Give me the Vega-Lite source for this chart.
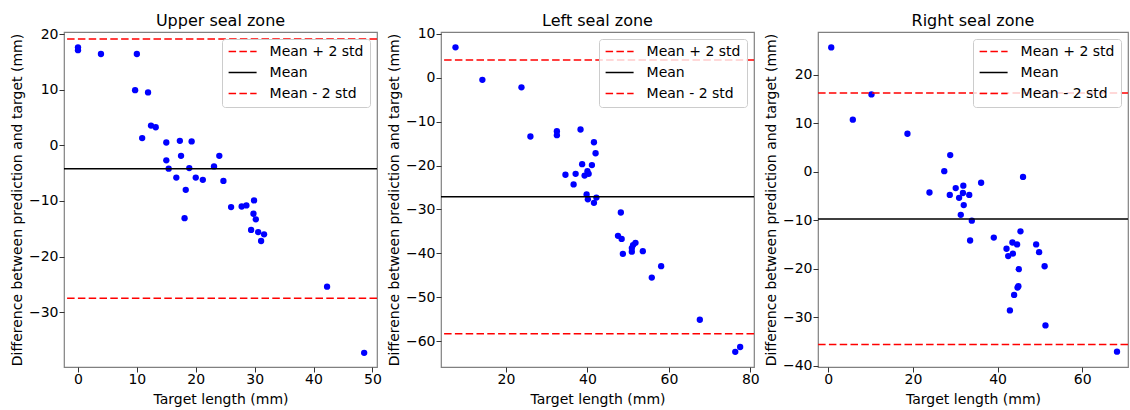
{
  "$schema": "https://vega.github.io/schema/vega-lite/v6.json",
  "padding": {"left": 9, "top": 12, "right": 0, "bottom": 0},
  "spacing": 64,
  "bounds": "flush",
  "datasets": {
    "pts": [
      {"panel": "Upper", "x": 0, "y": 17.6}, {"panel": "Upper", "x": 0, "y": 17.1}, {"panel": "Upper", "x": 3.9, "y": 16.4}, {"panel": "Upper", "x": 10.0, "y": 16.4},
      {"panel": "Upper", "x": 9.7, "y": 9.9}, {"panel": "Upper", "x": 11.9, "y": 9.5}, {"panel": "Upper", "x": 12.4, "y": 3.55}, {"panel": "Upper", "x": 13.2, "y": 3.25},
      {"panel": "Upper", "x": 10.9, "y": 1.3}, {"panel": "Upper", "x": 15.0, "y": 0.5}, {"panel": "Upper", "x": 17.3, "y": 0.8}, {"panel": "Upper", "x": 19.3, "y": 0.7},
      {"panel": "Upper", "x": 15.0, "y": -2.7}, {"panel": "Upper", "x": 17.5, "y": -1.9}, {"panel": "Upper", "x": 24.0, "y": -1.9}, {"panel": "Upper", "x": 15.4, "y": -4.2},
      {"panel": "Upper", "x": 18.9, "y": -4.1}, {"panel": "Upper", "x": 23.1, "y": -3.8}, {"panel": "Upper", "x": 16.7, "y": -5.8}, {"panel": "Upper", "x": 20.0, "y": -5.8},
      {"panel": "Upper", "x": 21.2, "y": -6.2}, {"panel": "Upper", "x": 24.7, "y": -6.4}, {"panel": "Upper", "x": 18.3, "y": -8.0}, {"panel": "Upper", "x": 18.1, "y": -13.1},
      {"panel": "Upper", "x": 29.9, "y": -9.9}, {"panel": "Upper", "x": 26.0, "y": -11.1}, {"panel": "Upper", "x": 27.8, "y": -11.0}, {"panel": "Upper", "x": 28.6, "y": -10.8},
      {"panel": "Upper", "x": 29.8, "y": -12.3}, {"panel": "Upper", "x": 30.2, "y": -13.3}, {"panel": "Upper", "x": 29.4, "y": -15.2}, {"panel": "Upper", "x": 30.6, "y": -15.6},
      {"panel": "Upper", "x": 31.6, "y": -16.0}, {"panel": "Upper", "x": 31.1, "y": -17.2}, {"panel": "Upper", "x": 42.3, "y": -25.4}, {"panel": "Upper", "x": 48.6, "y": -37.3},

      {"panel": "Left", "x": 7.6, "y": 6.9}, {"panel": "Left", "x": 14.2, "y": -0.5}, {"panel": "Left", "x": 23.8, "y": -2.2}, {"panel": "Left", "x": 26.0, "y": -13.4},
      {"panel": "Left", "x": 32.5, "y": -12.2}, {"panel": "Left", "x": 32.5, "y": -13.1}, {"panel": "Left", "x": 38.3, "y": -11.8}, {"panel": "Left", "x": 41.6, "y": -14.7},
      {"panel": "Left", "x": 42.0, "y": -17.2}, {"panel": "Left", "x": 38.7, "y": -19.7}, {"panel": "Left", "x": 41.1, "y": -19.9}, {"panel": "Left", "x": 34.6, "y": -22.1},
      {"panel": "Left", "x": 37.1, "y": -21.9}, {"panel": "Left", "x": 40.0, "y": -21.3}, {"panel": "Left", "x": 39.3, "y": -22.3}, {"panel": "Left", "x": 40.3, "y": -21.9},
      {"panel": "Left", "x": 36.6, "y": -24.3}, {"panel": "Left", "x": 39.8, "y": -26.6}, {"panel": "Left", "x": 40.1, "y": -27.7}, {"panel": "Left", "x": 41.6, "y": -28.5},
      {"panel": "Left", "x": 42.2, "y": -27.3}, {"panel": "Left", "x": 48.2, "y": -30.7}, {"panel": "Left", "x": 47.5, "y": -36.0}, {"panel": "Left", "x": 48.4, "y": -36.7},
      {"panel": "Left", "x": 48.7, "y": -40.1}, {"panel": "Left", "x": 50.9, "y": -38.8}, {"panel": "Left", "x": 50.9, "y": -39.6}, {"panel": "Left", "x": 51.8, "y": -37.6},
      {"panel": "Left", "x": 51.2, "y": -38.1}, {"panel": "Left", "x": 53.6, "y": -39.5}, {"panel": "Left", "x": 58.1, "y": -42.9}, {"panel": "Left", "x": 55.8, "y": -45.5},
      {"panel": "Left", "x": 67.6, "y": -55.1}, {"panel": "Left", "x": 76.3, "y": -62.4}, {"panel": "Left", "x": 77.5, "y": -61.3},

      {"panel": "Right", "x": 0.7, "y": 25.6}, {"panel": "Right", "x": 10.2, "y": 15.9}, {"panel": "Right", "x": 5.8, "y": 10.7}, {"panel": "Right", "x": 18.7, "y": 7.8},
      {"panel": "Right", "x": 28.8, "y": 3.4}, {"panel": "Right", "x": 27.4, "y": 0.1}, {"panel": "Right", "x": 46.0, "y": -1.1}, {"panel": "Right", "x": 36.1, "y": -2.3},
      {"panel": "Right", "x": 23.9, "y": -4.3}, {"panel": "Right", "x": 28.7, "y": -4.8}, {"panel": "Right", "x": 30.1, "y": -3.4}, {"panel": "Right", "x": 31.9, "y": -2.9},
      {"panel": "Right", "x": 30.9, "y": -5.4}, {"panel": "Right", "x": 31.8, "y": -4.4}, {"panel": "Right", "x": 33.3, "y": -4.8}, {"panel": "Right", "x": 32.0, "y": -6.9},
      {"panel": "Right", "x": 31.3, "y": -8.9}, {"panel": "Right", "x": 33.9, "y": -10.1}, {"panel": "Right", "x": 33.5, "y": -14.2}, {"panel": "Right", "x": 39.1, "y": -13.6},
      {"panel": "Right", "x": 45.4, "y": -12.3}, {"panel": "Right", "x": 42.1, "y": -15.9}, {"panel": "Right", "x": 43.5, "y": -14.6}, {"panel": "Right", "x": 44.6, "y": -15.0},
      {"panel": "Right", "x": 42.5, "y": -17.4}, {"panel": "Right", "x": 43.6, "y": -16.9}, {"panel": "Right", "x": 49.1, "y": -15.0}, {"panel": "Right", "x": 49.8, "y": -16.6},
      {"panel": "Right", "x": 45.0, "y": -20.1}, {"panel": "Right", "x": 51.1, "y": -19.5}, {"panel": "Right", "x": 44.9, "y": -23.6}, {"panel": "Right", "x": 44.7, "y": -23.9},
      {"panel": "Right", "x": 43.9, "y": -25.4}, {"panel": "Right", "x": 42.9, "y": -28.6}, {"panel": "Right", "x": 51.3, "y": -31.7}, {"panel": "Right", "x": 68.2, "y": -37.1}
    ],
    "lines": [
      {"panel": "Upper", "label": "Mean + 2 std", "value": 19.1},
      {"panel": "Upper", "label": "Mean", "value": -4.2},
      {"panel": "Upper", "label": "Mean - 2 std", "value": -27.5},
      {"panel": "Left", "label": "Mean + 2 std", "value": 4.0},
      {"panel": "Left", "label": "Mean", "value": -27.1},
      {"panel": "Left", "label": "Mean - 2 std", "value": -58.3},
      {"panel": "Right", "label": "Mean + 2 std", "value": 16.2},
      {"panel": "Right", "label": "Mean", "value": -9.75},
      {"panel": "Right", "label": "Mean - 2 std", "value": -35.6}
    ]
  },
  "hconcat": [
    {
      "title": "Upper seal zone",
      "width": 313, "height": 335,
      "layer": [
        {
          "data": {"name": "pts"},
          "transform": [{"filter": "datum.panel == 'Upper'"}],
          "mark": {"type": "circle", "color": "blue", "size": 40, "opacity": 1},
          "encoding": {
            "x": {"field": "x", "type": "quantitative", "scale": {"domain": [-2.375, 50.78], "nice": false, "zero": false}, "axis": {"values": [0, 10, 20, 30, 40, 50], "title": "Target length (mm)"}},
            "y": {"field": "y", "type": "quantitative", "scale": {"domain": [-39.84, 20.36], "nice": false, "zero": false}, "axis": {"values": [-30, -20, -10, 0, 10, 20], "title": "Difference between prediction and target (mm)"}}
          }
        },
        {
          "data": {"name": "lines"},
          "transform": [{"filter": "datum.panel == 'Upper'"}],
          "mark": {"type": "rule", "strokeWidth": 1.5},
          "encoding": {
            "y": {"field": "value", "type": "quantitative", "scale": {"domain": [-39.84, 20.36], "nice": false, "zero": false}},
            "color": {"field": "label", "type": "nominal", "scale": {"domain": ["Mean + 2 std", "Mean", "Mean - 2 std"], "range": ["red", "black", "red"]}, "legend": {"title": null}},
            "strokeDash": {"field": "label", "type": "nominal", "scale": {"domain": ["Mean + 2 std", "Mean", "Mean - 2 std"], "range": [[7.5, 3.3], [1, 0], [7.5, 3.3]]}, "legend": {"title": null}}
          }
        }
      ]
    },
    {
      "title": "Left seal zone",
      "width": 313, "height": 335,
      "layer": [
        {
          "data": {"name": "pts"},
          "transform": [{"filter": "datum.panel == 'Left'"}],
          "mark": {"type": "circle", "color": "blue", "size": 40, "opacity": 1},
          "encoding": {
            "x": {"field": "x", "type": "quantitative", "scale": {"domain": [4.04, 80.9], "nice": false, "zero": false}, "axis": {"values": [20, 40, 60, 80], "title": "Target length (mm)"}},
            "y": {"field": "y", "type": "quantitative", "scale": {"domain": [-65.86, 10.39], "nice": false, "zero": false}, "axis": {"values": [-60, -50, -40, -30, -20, -10, 0, 10], "title": "Difference between prediction and target (mm)"}}
          }
        },
        {
          "data": {"name": "lines"},
          "transform": [{"filter": "datum.panel == 'Left'"}],
          "mark": {"type": "rule", "strokeWidth": 1.5},
          "encoding": {
            "y": {"field": "value", "type": "quantitative", "scale": {"domain": [-65.86, 10.39], "nice": false, "zero": false}},
            "color": {"field": "label", "type": "nominal", "scale": {"domain": ["Mean + 2 std", "Mean", "Mean - 2 std"], "range": ["red", "black", "red"]}, "legend": {"title": null}},
            "strokeDash": {"field": "label", "type": "nominal", "scale": {"domain": ["Mean + 2 std", "Mean", "Mean - 2 std"], "range": [[7.5, 3.3], [1, 0], [7.5, 3.3]]}, "legend": {"title": null}}
          }
        }
      ]
    },
    {
      "title": {"text": "Right seal zone", "offset": 3},
      "width": 310, "height": 335,
      "layer": [
        {
          "data": {"name": "pts"},
          "transform": [{"filter": "datum.panel == 'Right'"}],
          "mark": {"type": "circle", "color": "blue", "size": 40, "opacity": 1},
          "encoding": {
            "x": {"field": "x", "type": "quantitative", "scale": {"domain": [-2.43, 70.8], "nice": false, "zero": false}, "axis": {"values": [0, 20, 40, 60], "title": "Target length (mm)"}},
            "y": {"field": "y", "type": "quantitative", "scale": {"domain": [-40.26, 28.77], "nice": false, "zero": false}, "axis": {"values": [-40, -30, -20, -10, 0, 10, 20], "title": "Difference between prediction and target (mm)"}}
          }
        },
        {
          "data": {"name": "lines"},
          "transform": [{"filter": "datum.panel == 'Right'"}],
          "mark": {"type": "rule", "strokeWidth": 1.5},
          "encoding": {
            "y": {"field": "value", "type": "quantitative", "scale": {"domain": [-40.26, 28.77], "nice": false, "zero": false}},
            "color": {"field": "label", "type": "nominal", "scale": {"domain": ["Mean + 2 std", "Mean", "Mean - 2 std"], "range": ["red", "black", "red"]}, "legend": {"title": null}},
            "strokeDash": {"field": "label", "type": "nominal", "scale": {"domain": ["Mean + 2 std", "Mean", "Mean - 2 std"], "range": [[7.5, 3.3], [1, 0], [7.5, 3.3]]}, "legend": {"title": null}}
          }
        }
      ]
    }
  ],
  "resolve": {"scale": {"color": "independent", "strokeDash": "independent"}, "legend": {"color": "independent", "strokeDash": "independent"}},
  "config": {
    "font": "DejaVu Sans",
    "view": {"stroke": "#808080", "strokeWidth": 1.2},
    "axis": {
      "grid": false, "domain": false,
      "tickColor": "#333333", "tickSize": 5, "tickWidth": 1,
      "labelFontSize": 14, "titleFontSize": 14, "titleFontWeight": "normal",
      "labelColor": "black", "titleColor": "black",
      "labelFont": "DejaVu Sans", "titleFont": "DejaVu Sans"
    },
    "axisX": {"labelPadding": 0, "titlePadding": 6, "labelFlush": false},
    "axisY": {"labelPadding": 1, "titlePadding": 4, "labelFlush": false},
    "title": {"fontSize": 16, "fontWeight": "normal", "font": "DejaVu Sans", "offset": -2, "color": "black"},
    "legend": {
      "orient": "top-right", "offset": 7,
      "fillColor": "rgba(255,255,255,0.8)", "strokeColor": "#cccccc", "cornerRadius": 3,
      "padding": 5.6, "labelFontSize": 14, "labelFont": "DejaVu Sans", "labelColor": "black",
      "symbolType": "stroke", "symbolSize": 784, "symbolStrokeWidth": 1.5, "labelOffset": 12,
      "clipHeight": 14, "rowPadding": 7
    }
  }
}
